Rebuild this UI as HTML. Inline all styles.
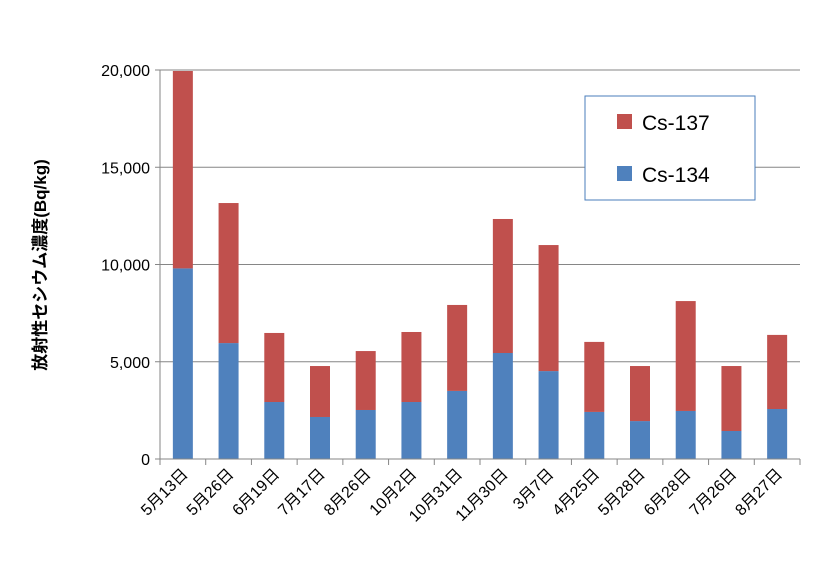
<!DOCTYPE html>
<html><head><meta charset="utf-8"><style>
body{margin:0;background:#fff;}
svg text{font-family:"Liberation Sans","Noto Sans CJK JP",sans-serif;}
</style></head><body>
<svg id="chart" width="820" height="577" viewBox="0 0 820 577" xmlns="http://www.w3.org/2000/svg">
<g id="grid"></g>
<g id="bars"></g>
<g id="axes"></g>
<text transform="translate(46,265) rotate(-90)" text-anchor="middle" font-size="17" font-weight="bold" fill="#000">放射性セシウム濃度(Bq/kg)</text>
<g>
<rect x="585" y="96" width="170" height="104" fill="#fff" stroke="#4a7ebb" stroke-width="1"/>
<rect x="617" y="114" width="15" height="15" fill="#c0504d"/>
<text x="642" y="130" font-size="21" fill="#000">Cs-137</text>
<rect x="617" y="166" width="15" height="15" fill="#4f81bd"/>
<text x="642" y="182" font-size="21" fill="#000">Cs-134</text>
</g>
</svg>
<script>
const categories=["5月13日","5月26日","6月19日","7月17日","8月26日","10月2日","10月31日","11月30日","3月7日","4月25日","5月28日","6月28日","7月26日","8月27日"];
const cs134=[9800,5960,2930,2160,2520,2930,3500,5450,4520,2420,1950,2470,1440,2570];
const cs137=[10150,7200,3550,2620,3030,3600,4420,6890,6480,3600,2830,5650,3340,3810];
const yTicks=[0,5000,10000,15000,20000];
const yTickLabels=["0","5,000","10,000","15,000","20,000"];
const NS="http://www.w3.org/2000/svg";
const X0=160,X1=800,Y0=459,Y1=70,YMAX=20000;
const band=(X1-X0)/categories.length;
function y(v){return Y0-(v/YMAX)*(Y0-Y1);}
function xc(i){return X0+band*(i+0.5);}
function mk(tag,attrs,parent){const e=document.createElementNS(NS,tag);for(const k in attrs)e.setAttribute(k,attrs[k]);parent.appendChild(e);return e;}
const grid=document.getElementById('grid'),bars=document.getElementById('bars'),axes=document.getElementById('axes');
yTicks.forEach((t,i)=>{
 if(t>0){const l=mk('line',{x1:X0,x2:X1,y1:y(t),y2:y(t),stroke:'#868686','stroke-width':1},grid);
 
 }
 const tk=mk('line',{x1:X0-5,x2:X0,y1:y(t),y2:y(t),stroke:'#868686'},axes);
 
 
 const tx=mk('text',{x:X0-10,y:y(t)+6,'text-anchor':'end','font-size':16,fill:'#000'},axes);
 tx.textContent=yTickLabels[i];
 
 
});
const bw=20;
categories.forEach((c,i)=>{
 const cx=xc(i);
 const b1=mk('rect',{x:cx-bw/2,y:y(cs134[i]),width:bw,height:Y0-y(cs134[i]),fill:'#4f81bd'},bars);
 
 
 const tot=cs134[i]+cs137[i];
 const b2=mk('rect',{x:cx-bw/2,y:y(tot),width:bw,height:y(cs134[i])-y(tot),fill:'#c0504d'},bars);
 
 
 const tk=mk('line',{x1:X0+band*(i+1),x2:X0+band*(i+1),y1:Y0,y2:Y0+6,stroke:'#868686'},axes);
 
 
 const tx=mk('text',{transform:`translate(${cx+6},${Y0+16}) rotate(-45)`,'text-anchor':'end','font-size':16,fill:'#000'},axes);
 tx.textContent=c;
 
 
});
const t0=mk('line',{x1:X0,x2:X0,y1:Y0,y2:Y0+6,stroke:'#868686'},axes);


const ya=mk('line',{x1:X0,x2:X0,y1:Y1,y2:Y0,stroke:'#868686'},axes);


const xa=mk('line',{x1:X0,x2:X1,y1:Y0,y2:Y0,stroke:'#868686'},axes);


</script>
</body></html>
